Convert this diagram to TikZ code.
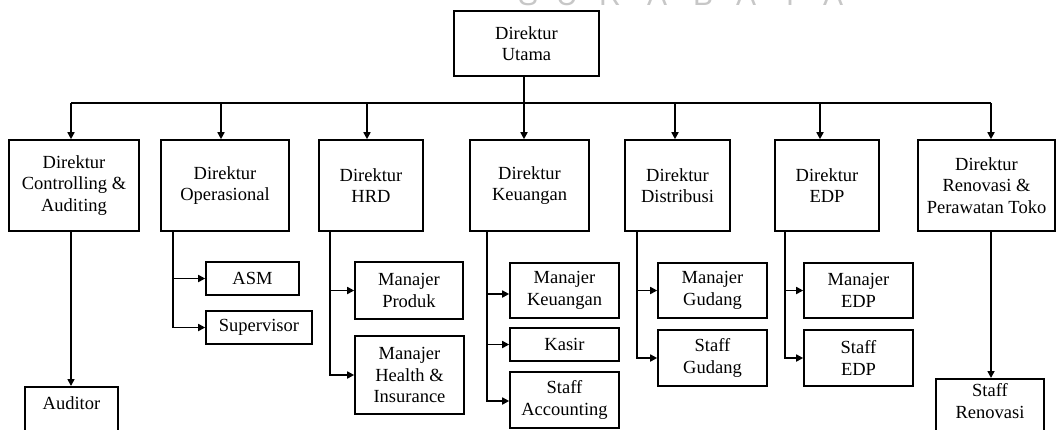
\documentclass[tikz,border=0pt]{standalone}
\usepackage{fontspec}
\setmainfont{Liberation Serif}
\newfontfamily\wmfont{Liberation Sans}
\usetikzlibrary{arrows.meta}
\begin{document}
\begin{tikzpicture}[x=1pt,y=-1pt,
  box/.style={draw, line width=1.6pt, inner sep=0pt, align=center,
    font=\fontsize{18.5}{21.5}\selectfont},
  lab/.style={inner sep=0pt, align=center, font=\fontsize{18.5}{21.5}\selectfont},
  con/.style={line width=1.6pt},
  arr/.style={line width=1.6pt, -{Triangle[length=7pt,width=7pt]}},
  wm/.style={inner sep=0pt, anchor=base, text=black!22, font=\wmfont\fontsize{30}{30}\selectfont}]
\useasboundingbox (0,0) rectangle (1057,429);
\clip (0,0) rectangle (1057,429);
\fill[white] (0,0) rectangle (1057,429);
% watermark
\foreach \l/\xx [count=\i] in {S/528,U/567,R/610,A/657,B/703,A/746,Y/790,A/833}
  \node[wm] (wm\i) at (\xx,5) {\l};
% top
\node[box, minimum width=145pt, minimum height=65pt] (UT) at (526.5,43.5) {Direktur\\Utama};
% directors
\node[box, minimum width=130pt, minimum height=91pt] (C1) at (74,185.5) {Direktur\\Controlling \&\\Auditing};
\node[box, minimum width=128pt, minimum height=91pt] (C2) at (225,185.5) {Direktur\\Operasional};
\node[box, minimum width=104pt, minimum height=91pt] (C3) at (371,185.5) {Direktur\\HRD};
\node[box, minimum width=119pt, minimum height=91pt] (C4) at (529.5,185.5) {Direktur\\Keuangan};
\node[box, minimum width=105pt, minimum height=91pt] (C5) at (677.5,185.5) {Direktur\\Distribusi};
\node[box, minimum width=104pt, minimum height=91pt] (C6) at (827,185.5) {Direktur\\EDP};
\node[box, minimum width=137pt, minimum height=91pt] (C7) at (986.5,185.5) {Direktur\\Renovasi \&\\Perawatan Toko};
% sub boxes
\node[box, minimum width=93pt, minimum height=33pt] (ASM) at (252.5,278.5) {ASM};
\node[box, minimum width=106pt, minimum height=33pt] (SUP) at (259,327.5) {Supervisor};
\node[box, minimum width=108pt, minimum height=57pt] (MP) at (409,290.5) {Manajer\\Produk};
\node[box, minimum width=109pt, minimum height=78pt] (MH) at (409.5,375) {Manajer\\Health \&\\Insurance};
\node[box, minimum width=109pt, minimum height=55pt] (MK) at (564.5,290.5) {Manajer\\Keuangan};
\node[box, minimum width=109pt, minimum height=33pt] (KAS) at (564.5,344.5) {Kasir};
\node[box, minimum width=109pt, minimum height=56pt] (SA) at (564.5,400) {Staff\\Accounting};
\node[box, minimum width=109pt, minimum height=55pt] (MG) at (712.5,290.5) {Manajer\\Gudang};
\node[box, minimum width=109pt, minimum height=56pt] (SG) at (712.5,358) {Staff\\Gudang};
\node[box, minimum width=109pt, minimum height=55pt] (ME) at (858.5,290.5) {Manajer\\EDP};
\node[box, minimum width=109pt, minimum height=56pt] (SE) at (858.5,358) {Staff\\EDP};
\node[box, minimum width=93pt, minimum height=90pt, anchor=north] (AUD) at (71.5,386) {};
\node[lab] (AUDt) at (71.5,403) {Auditor};
\node[box, minimum width=108pt, minimum height=90pt, anchor=north] (SR) at (990,378) {};
\node[lab] (SRt) at (990,401) {Staff\\Renovasi};
% bus
\coordinate (b0) at (524,103);
\coordinate (b1) at (71,103);
\coordinate (b2) at (221,103);
\coordinate (b3) at (367,103);
\coordinate (b4) at (524,103);
\coordinate (b5) at (675,103);
\coordinate (b6) at (820,103);
\coordinate (b7) at (991,103);
\draw[con] (b0 |- UT.south) -- (b0);
\draw[con] (b1) -- (b7);
\foreach \i in {1,...,7} \draw[arr] (b\i) -- (b\i |- C\i.north);
% branches
\coordinate (x2) at (173,0);
\coordinate (x3) at (330,0);
\coordinate (x4) at (487,0);
\coordinate (x5) at (637,0);
\coordinate (x6) at (785,0);
\draw[arr] (x2 |- C2.south) |- (ASM.west);
\draw[arr] (x2 |- C2.south) |- (SUP.west);
\draw[arr] (x3 |- C3.south) |- (MP.west);
\draw[arr] (x3 |- C3.south) |- (MH.west);
\draw[arr] (x4 |- C4.south) |- ([yshift=-3.5pt]MK.west);
\draw[arr] (x4 |- C4.south) |- (KAS.west);
\draw[arr] (x4 |- C4.south) |- ([yshift=-1pt]SA.west);
\draw[arr] (x5 |- C5.south) |- (MG.west);
\draw[arr] (x5 |- C5.south) |- (SG.west);
\draw[arr] (x6 |- C6.south) |- (ME.west);
\draw[arr] (x6 |- C6.south) |- (SE.west);
\draw[arr] (b1 |- C1.south) -- (b1 |- AUD.north);
\draw[arr] (b7 |- C7.south) -- (b7 |- SR.north);
\end{tikzpicture}
\end{document}
